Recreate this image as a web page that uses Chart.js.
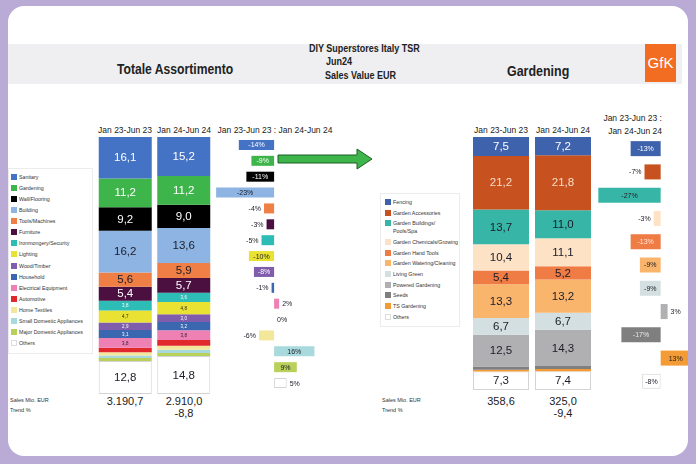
<!DOCTYPE html>
<html>
<head>
<meta charset="utf-8">
<script src="https://cdn.jsdelivr.net/npm/chart.js@4.4.0/dist/chart.umd.min.js"></script>
<style>
  body { margin: 0; width: 696px; height: 464px; background: #b9aad6; overflow: hidden;
         font-family: "Liberation Sans", Arial, sans-serif; color: #222; }
  #stage { position: absolute; left: 0; top: 0; width: 696px; height: 464px; background: #fff;
           clip-path: inset(6px 8px 8px 8px round 16px); }
  .abs { position: absolute; white-space: nowrap; }
  .narrow { font-weight: bold; transform-origin: 0 50%; }
  .hd { font-size: 8.5px; transform: translate(-50%, -50%); }
  .val { font-size: 11px; transform: translate(-50%, -50%); }
  .tiny { font-size: 5.5px; color: #333; transform: translateY(-50%); }
  .leg { position: absolute; font-size: 5.3px; color: #333; line-height: 8px; }
  .leg i { position: absolute; left: -8px; top: 1px; width: 6px; height: 6px; }
  canvas { position: absolute; }
</style>
</head>
<body>
<div id="stage">
  <div class="abs" style="left:8px;top:44px;width:674px;height:40px;background:#efeff1"></div>
  <div class="abs narrow" style="left:117px;top:68px;font-size:15px;transform:translateY(-50%) scaleX(0.81)">Totale Assortimento</div>
  <div class="abs narrow" style="left:309px;top:48px;font-size:10px;transform:translateY(-50%) scaleX(0.9)">DIY Superstores Italy TSR</div>
  <div class="abs narrow" style="left:326px;top:61px;font-size:10px;transform:translateY(-50%) scaleX(0.9)">Jun24</div>
  <div class="abs narrow" style="left:325px;top:75px;font-size:10px;transform:translateY(-50%) scaleX(0.9)">Sales Value EUR</div>
  <div class="abs narrow" style="left:507px;top:70px;font-size:15px;transform:translateY(-50%) scaleX(0.83)">Gardening</div>
  <div class="abs" style="left:645px;top:44px;width:31px;height:38px;background:#f26c22;color:#fff;font-size:15px;line-height:38px;text-align:center">GfK</div>

  <div id="hdTotal"></div>
  <div class="abs hd" style="left:275px;top:130px">Jan 23-Jun 23 : Jan 24-Jun 24</div>
  <div class="abs" style="left:662px;top:112px;font-size:8.5px;transform:translateX(-100%);text-align:right;line-height:13px">Jan 23-Jun 23 :<br>Jan 24-Jun 24</div>

  <div class="abs" style="left:8px;top:168px;width:83px;height:184px;border:1px solid #ececec"></div>
  <div class="abs" style="left:380px;top:193px;width:78px;height:132px;border:1px solid #ececec"></div>
  <div id="legTotal"></div>
  <div id="legGarden"></div>

  <canvas id="stackTotal" width="117" height="257" style="left:96px;top:137px"></canvas>
  <canvas id="trendTotal" width="179" height="254" style="left:201px;top:137px"></canvas>
  <canvas id="stackGarden" width="124" height="253" style="left:470px;top:137px"></canvas>
  <canvas id="trendGarden" width="100" height="256" style="left:596px;top:137px"></canvas>

  <div class="abs tiny" style="left:10px;top:400px">Sales Mio. EUR</div>
  <div class="abs tiny" style="left:10px;top:410px">Trend %</div>
  <div class="abs tiny" style="left:382px;top:400px">Sales Mio. EUR</div>
  <div class="abs tiny" style="left:382px;top:410px">Trend %</div>
  <div id="footer"></div>
</div>
<script>
const periods = ['Jan 23-Jun 23', 'Jan 24-Jun 24'];

const totalCats = ['Sanitary', 'Gardening', 'Wall/Flooring', 'Building', 'Tools/Machines', 'Furniture',
  'Ironmongery/Security', 'Lighting', 'Wood/Timber', 'Household', 'Electrical Equipment', 'Automotive',
  'Home Textiles', 'Small Domestic Appliances', 'Major Domestic Appliances', 'Others'];
const totalShare23 = [16.1, 11.2, 9.2, 16.2, 5.6, 5.4, 3.8, 4.7, 2.9, 3.1, 3.8, 1.8, 1.2, 1.0, 1.2, 12.8];
const totalShare24 = [15.2, 11.2, 9.0, 13.6, 5.9, 5.7, 3.6, 4.8, 3.0, 3.2, 3.8, 2.2, 1.6, 1.2, 1.2, 14.8];
const totalTrend = [-14, -9, -11, -23, -4, -3, -5, -10, -8, -1, 2, 0, -6, 16, 9, 5];
const totalSales = ['3.190,7', '2.910,0'];
const totalSalesTrend = '-8,8';

const gardenCats = ['Fencing', 'Garden Accessories', 'Garden Buildings/\nPools/Spa', 'Garden Chemicals/Growing',
  'Garden Hand Tools', 'Garden Watering/Cleaning', 'Living Green', 'Powered Gardening', 'Seeds',
  'TS Gardening', 'Others'];
const gardenShare23 = [7.5, 21.2, 13.7, 10.4, 5.4, 13.3, 6.7, 12.5, 1.3, 0.7, 7.3];
const gardenShare24 = [7.2, 21.8, 11.0, 11.1, 5.2, 13.2, 6.7, 14.3, 1.2, 0.9, 7.4];
const gardenTrend = [-13, -7, -27, -3, -13, -9, -9, 3, -17, 13, -8];
const gardenSales = ['358,6', '325,0'];
const gardenSalesTrend = '-9,4';

const W = '#ffffff', D = '#1c1c28';
const totalColors = ['#4472c4', '#3db54a', '#000000', '#8db4e2', '#f07f45', '#4b0f40', '#2ebdb6', '#e9e232',
  '#7f5dac', '#3b67b1', '#ef80b3', '#e1292d', '#f3e79b', '#a8d9dd', '#b9d05b', '#ffffff'];
const totalInks = [W, W, W, D, D, W, W, D, W, W, D, W, D, D, D, D];
const gardenColors = ['#3f62ad', '#c7511f', '#37b6a7', '#fde2c6', '#ef7b45', '#fab56d', '#d3dfe0', '#b0b0b2',
  '#7f7f80', '#f39c35', '#ffffff'];
const gardenInks = [W, '#f7dcc6', D, D, D, D, D, D, W, D, D];
const gardenTrendInks = [W, W, D, D, '#fde8dc', D, D, D, '#e8e8e8', D, D];

const fmt = v => v.toFixed(1).replace('.', ',');

// numbers printed in the stacked segments
const segLabels = {
  id: 'segLabels',
  afterDatasetsDraw(chart, args, opts) {
    const ctx = chart.ctx;
    ctx.save();
    ctx.textAlign = 'center';
    ctx.textBaseline = 'middle';
    chart.data.datasets.forEach((ds, i) => {
      chart.getDatasetMeta(i).data.forEach((bar, j) => {
        const v = ds.data[j];
        if (v < 2.5) return;
        ctx.font = (v >= 5 ? '11.5px' : '4.5px') + ' "Liberation Sans", Arial';
        ctx.fillStyle = opts.inks[i];
        ctx.fillText(fmt(v), bar.x, (bar.y + bar.base) / 2 + 0.5);
      });
    });
    ctx.restore();
  }
};

// % change labels, inside long bars, beside short ones
const trendLabels = {
  id: 'trendLabels',
  afterDatasetsDraw(chart, args, opts) {
    const ctx = chart.ctx;
    const ds = chart.data.datasets[0];
    ctx.save();
    ctx.font = '7px "Liberation Sans", Arial';
    ctx.textBaseline = 'middle';
    chart.getDatasetMeta(0).data.forEach((bar, i) => {
      const v = ds.data[i];
      const txt = v + '%';
      if (Math.abs(v) >= 8) {
        ctx.textAlign = 'center';
        ctx.fillStyle = opts.inks[i];
        ctx.fillText(txt, (bar.x + bar.base) / 2, bar.y + 0.5);
      } else if (v < 0) {
        ctx.textAlign = 'right';
        ctx.fillStyle = D;
        ctx.fillText(txt, bar.x - 3, bar.y + 0.5);
      } else {
        ctx.textAlign = 'left';
        ctx.fillStyle = D;
        ctx.fillText(txt, bar.x + 3, bar.y + 0.5);
      }
    });
    ctx.restore();
  }
};

const arrow = {
  id: 'arrow',
  afterDraw(chart) {
    const ctx = chart.ctx;
    ctx.save();
    ctx.beginPath();
    ctx.moveTo(77, 18); ctx.lineTo(156, 18); ctx.lineTo(156, 12); ctx.lineTo(171, 22);
    ctx.lineTo(156, 32); ctx.lineTo(156, 26); ctx.lineTo(77, 26); ctx.closePath();
    ctx.fillStyle = '#3db54a';
    ctx.fill();
    ctx.strokeStyle = '#1f5e28';
    ctx.lineWidth = 1;
    ctx.stroke();
    ctx.restore();
  }
};

function stackChart(id, cats, colors, inks, a, b, catPct) {
  const last = cats.length - 1;
  return new Chart(document.getElementById(id), {
    type: 'bar',
    data: {
      labels: periods,
      datasets: cats.map((c, i) => ({
        label: c,
        data: [a[i], b[i]],
        backgroundColor: colors[i],
        borderColor: i === last ? '#d4d4d4' : colors[i],
        borderWidth: i === last ? 1 : 0,
        borderSkipped: false,
        categoryPercentage: catPct,
        barPercentage: 1
      }))
    },
    options: {
      responsive: false,
      animation: false,
      layout: { padding: 0 },
      plugins: { legend: { display: false }, tooltip: { enabled: false }, segLabels: { inks } },
      scales: {
        x: { stacked: true, display: false },
        y: { stacked: true, display: false, reverse: true, min: 0, max: 100 }
      }
    },
    plugins: [segLabels]
  });
}

function trendChart(id, cats, colors, inks, values, min, max, thick, extra) {
  const last = cats.length - 1;
  return new Chart(document.getElementById(id), {
    type: 'bar',
    data: {
      labels: cats,
      datasets: [{
        data: values,
        backgroundColor: colors,
        borderColor: cats.map((c, i) => i === last ? '#d4d4d4' : colors[i]),
        borderWidth: cats.map((c, i) => i === last ? 1 : 0),
        borderSkipped: false,
        categoryPercentage: 1,
        barPercentage: thick
      }]
    },
    options: {
      indexAxis: 'y',
      responsive: false,
      animation: false,
      layout: { padding: 0 },
      plugins: { legend: { display: false }, tooltip: { enabled: false }, trendLabels: { inks } },
      scales: {
        x: { display: false, min, max },
        y: { display: false }
      }
    },
    plugins: extra ? [trendLabels, extra] : [trendLabels]
  });
}

stackChart('stackTotal', totalCats, totalColors, totalInks, totalShare23, totalShare24, 0.906);
stackChart('stackGarden', gardenCats, gardenColors, gardenInks, gardenShare23, gardenShare24, 0.903);
trendChart('trendTotal', totalCats, totalColors, totalInks, totalTrend, -29, 42, 0.63, arrow);
trendChart('trendGarden', gardenCats, gardenColors, gardenTrendInks, gardenTrend, -28, 15.3, 0.645);

// HTML bits: period headings, legends, footer values
function place(parentId, html) { document.getElementById(parentId).insertAdjacentHTML('beforeend', html); }
[[125, 184], [501, 563]].forEach(xs => xs.forEach((x, k) =>
  place('hdTotal', `<div class="abs hd" style="left:${x}px;top:130px">${periods[k]}</div>`)));

totalCats.forEach((c, i) => {
  const y = 173 + i * 11.07;
  const border = i === totalCats.length - 1 ? 'border:1px solid #ddd;box-sizing:border-box;' : '';
  place('legTotal', `<div class="leg" style="left:19px;top:${y}px"><i style="background:${totalColors[i]};${border}"></i>${c}</div>`);
});
let gy = 198;
gardenCats.forEach((c, i) => {
  const border = i === gardenCats.length - 1 ? 'border:1px solid #ddd;box-sizing:border-box;' : '';
  place('legGarden', `<div class="leg" style="left:393px;top:${gy}px"><i style="background:${gardenColors[i]};${border}"></i>${c.replace('\n', '<br>')}</div>`);
  gy += c.includes('\n') ? 18.5 : 10.7;
});

[[totalSales, totalSalesTrend, 125, 184], [gardenSales, gardenSalesTrend, 501, 563]].forEach(([s, t, x1, x2]) => {
  place('footer', `<div class="abs val" style="left:${x1}px;top:401px">${s[0]}</div>`);
  place('footer', `<div class="abs val" style="left:${x2}px;top:401px">${s[1]}</div>`);
  place('footer', `<div class="abs val" style="left:${x2}px;top:413px">${t}</div>`);
});
</script>
</body>
</html>
